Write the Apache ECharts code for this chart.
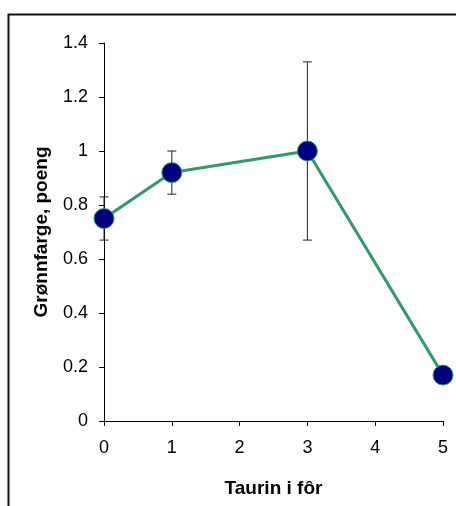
<!DOCTYPE html>
<html>
<head>
<meta charset="utf-8">
<script src="https://cdn.jsdelivr.net/npm/echarts@6/dist/echarts.min.js"></script>
<style>
html,body{margin:0;padding:0;background:#fff;}
#chart{width:456px;height:506px;}
</style>
</head>
<body>
<div id="chart"></div>
<script>
// Data
var taurin = [0, 1, 3, 5];
var gronnfarge = [0.75, 0.92, 1.0, 0.17];
var feil = [0.08, 0.08, 0.33, 0];
var xTicks = [0, 1, 2, 3, 4, 5];
var yTicks = [0, 0.2, 0.4, 0.6, 0.8, 1, 1.2, 1.4];
var xTitle = 'Taurin i fôr';
var yTitle = 'Grønnfarge, poeng';

var chart = echarts.init(document.getElementById('chart'), null, {renderer: 'canvas'});
var font = '"Liberation Sans", Arial, sans-serif';

var lineData = taurin.map(function (x, i) { return [x, gronnfarge[i]]; });
var errData = taurin.map(function (x, i) { return [x, gronnfarge[i] - feil[i], gronnfarge[i] + feil[i]]; });

var option = {
  backgroundColor: '#fff',
  animation: false,
  graphic: [{
    type: 'rect',
    shape: {x: 8.5, y: 14.5, width: 600, height: 600},
    style: {fill: 'none', stroke: '#111', lineWidth: 2},
    z: 0
  }],
  grid: {left: 104, right: 13, top: 43, bottom: 85},
  xAxis: {
    type: 'value',
    min: xTicks[0], max: xTicks[xTicks.length - 1], interval: 1,
    name: xTitle, nameLocation: 'middle', nameGap: 58,
    nameTextStyle: {fontFamily: font, fontSize: 19, fontWeight: 'bold', color: '#000'},
    axisLine: {show: true, onZero: false, lineStyle: {color: '#000', width: 1}},
    axisTick: {show: true, inside: false, length: 5, lineStyle: {color: '#000'}},
    axisLabel: {margin: 18, fontFamily: font, fontSize: 18, color: '#000'},
    splitLine: {show: false}
  },
  yAxis: {
    type: 'value',
    min: yTicks[0], max: yTicks[yTicks.length - 1], interval: 0.2,
    name: yTitle, nameLocation: 'middle', nameGap: 53,
    nameTextStyle: {fontFamily: font, fontSize: 19, fontWeight: 'bold', color: '#000'},
    axisLine: {show: true, onZero: false, lineStyle: {color: '#000', width: 1}},
    axisTick: {show: true, inside: false, length: 5, lineStyle: {color: '#000'}},
    axisLabel: {margin: 16, fontFamily: font, fontSize: 18, color: '#000',
      formatter: function (v) { return String(Math.round(v * 10) / 10); }},
    splitLine: {show: false}
  },
  series: [{
    type: 'custom',
    z: 1,
    data: errData,
    renderItem: function (params, api) {
      var x = api.value(0);
      var lo = api.coord([x, api.value(1)]);
      var hi = api.coord([x, api.value(2)]);
      var hw = 4.5;
      var st = {stroke: '#222', lineWidth: 1};
      return {
        type: 'group',
        children: [
          {type: 'line', shape: {x1: lo[0], y1: lo[1], x2: hi[0], y2: hi[1]}, style: st},
          {type: 'line', shape: {x1: lo[0] - hw, y1: lo[1], x2: lo[0] + hw, y2: lo[1]}, style: st},
          {type: 'line', shape: {x1: hi[0] - hw, y1: hi[1], x2: hi[0] + hw, y2: hi[1]}, style: st}
        ]
      };
    }
  }, {
    type: 'line',
    z: 2,
    data: lineData,
    symbol: 'circle',
    symbolSize: 20,
    lineStyle: {color: '#339966', width: 3},
    itemStyle: {color: '#000080', borderColor: '#339966', borderWidth: 1}
  }]
};
chart.setOption(option);
</script>
</body>
</html>
